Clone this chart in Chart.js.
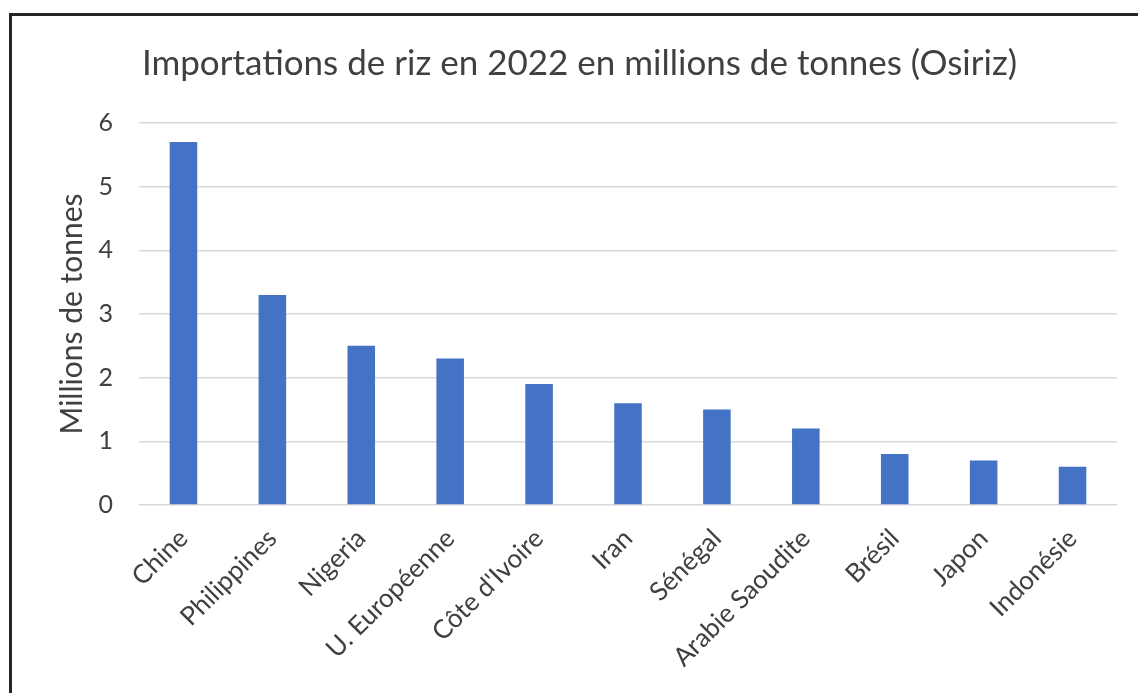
<!DOCTYPE html>
<html>
<head>
<meta charset="utf-8">
<script src="https://cdn.jsdelivr.net/npm/chart.js@4.4.1/dist/chart.umd.min.js"></script>
<style>
  html, body { margin: 0; padding: 0; background: #fff; }
  #wrap { position: relative; width: 1138px; height: 693px; overflow: hidden; }
  #frame { position: absolute; left: 9px; top: 13px; width: 1200px; height: 800px; border: 3px solid #262626; box-sizing: border-box; }
  #c { position: absolute; left: 0; top: 0; }
</style>
</head>
<body>
<div id="wrap">
  <div id="frame"></div>
  <canvas id="c" width="1138" height="693"></canvas>
</div>
<script>
const categories = ["Chine", "Philippines", "Nigeria", "U. Européenne", "Côte d'Ivoire", "Iran", "Sénégal", "Arabie Saoudite", "Brésil", "Japon", "Indonésie"];
const imports = [5.7, 3.3, 2.5, 2.3, 1.9, 1.6, 1.5, 1.2, 0.8, 0.7, 0.6];
const yTicks = [0, 1, 2, 3, 4, 5, 6];
const titleText = "Importations de riz en 2022 en millions de tonnes (Osiriz)";
const yTitle = "Millions de tonnes";

const FONT = "Lato, 'Open Sans', sans-serif";
const PAD_LEFT = 42;
const PLOT_LEFT = 139, PLOT_RIGHT = 1117, PLOT_BOTTOM = 505;

new Chart(document.getElementById('c'), {
  type: 'bar',
  data: {
    labels: categories,
    datasets: [{
      data: imports,
      backgroundColor: '#4472C4',
      borderWidth: 0,
      categoryPercentage: 1.0,
      barPercentage: 0.31
    }]
  },
  options: {
    responsive: false,
    animation: false,
    devicePixelRatio: 1,
    layout: { padding: { left: PAD_LEFT, right: 1138 - PLOT_RIGHT, top: 0, bottom: 0 } },
    plugins: {
      legend: { display: false },
      tooltip: { enabled: false },
      title: {
        display: true,
        text: titleText,
        color: '#404040',
        font: { family: FONT, size: 35, weight: 'normal', lineHeight: 1.2 },
        padding: { top: 43, bottom: 38 }
      }
    },
    scales: {
      x: {
        grid: { display: false, drawTicks: false },
        border: { display: false },
        ticks: {
          color: '#404040',
          font: { family: FONT, size: 26 },
          minRotation: 45,
          maxRotation: 45,
          padding: 18,
          autoSkip: false
        },
        afterFit: (s) => { s.height = 693 - PLOT_BOTTOM; }
      },
      y: {
        min: 0,
        max: 6,
        afterBuildTicks: (s) => { s.ticks = yTicks.map(v => ({ value: v })); },
        grid: { color: '#d9d9d9', lineWidth: 1.5, drawTicks: false },
        border: { display: false },
        ticks: {
          color: '#404040',
          font: { family: FONT, size: 25 },
          padding: 26
        },
        title: {
          display: true,
          text: yTitle,
          color: '#404040',
          font: { family: FONT, size: 30, weight: 'normal', lineHeight: 1.2 },
          padding: { top: 12, bottom: 0 }
        },
        afterFit: (s) => { s.width = PLOT_LEFT - PAD_LEFT; }
      }
    }
  }
});
</script>
</body>
</html>
